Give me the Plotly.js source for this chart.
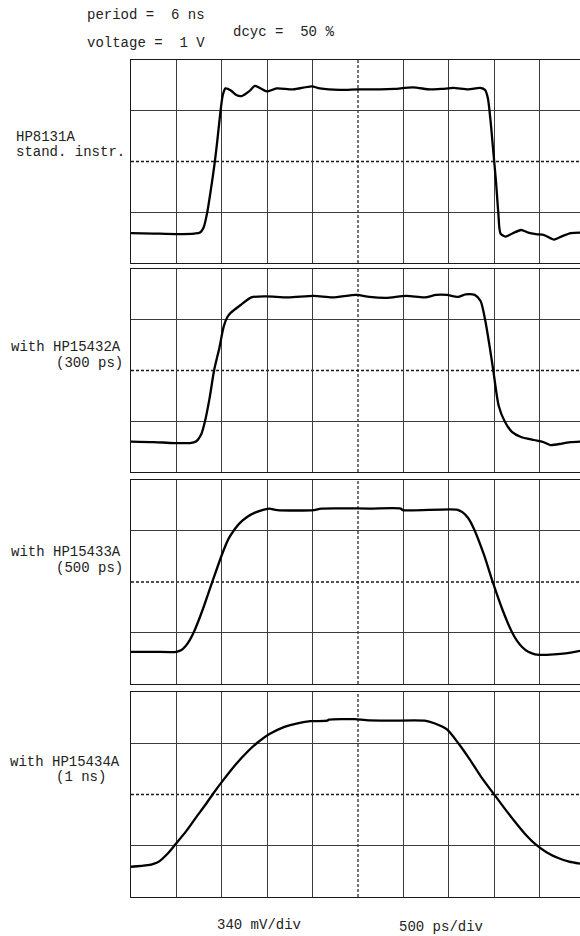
<!DOCTYPE html>
<html>
<head>
<meta charset="utf-8">
<script src="https://cdn.plot.ly/plotly-3.0.1.min.js"></script>
<style>html,body{margin:0;padding:0;background:#fff;}#chart{width:580px;height:936px;}</style>
</head>
<body>
<div id="chart"></div>
<script>
// Time in ns (500 ps/div), level in graticule divisions above the bottom edge (340 mV/div)
const t1 = [0,0.25,0.5,0.7,0.76,0.8,0.84,0.88,0.92,0.95,0.98,1.01,1.04,1.1,1.16,1.22,1.3,1.365,1.43,1.495,1.605,1.785,1.99,2.08,2.3,2.5,2.74,2.9,3.105,3.295,3.425,3.55,3.715,3.845,3.9,3.93,3.96,3.99,4.02,4.045,4.07,4.125,4.2,4.295,4.375,4.46,4.55,4.66,4.75,4.845,4.945];
const d1 = [0.59,0.58,0.57,0.58,0.6,0.7,1.0,1.45,1.95,2.4,2.9,3.3,3.44,3.4,3.31,3.29,3.38,3.49,3.44,3.38,3.44,3.42,3.48,3.44,3.41,3.42,3.42,3.43,3.46,3.42,3.43,3.45,3.42,3.45,3.41,3.25,2.8,2.2,1.6,1.0,0.58,0.52,0.58,0.65,0.6,0.57,0.55,0.46,0.53,0.59,0.6];

const t2 = [0,0.25,0.475,0.65,0.715,0.775,0.815,0.865,0.915,0.975,1.02,1.06,1.1,1.2,1.325,1.485,1.73,2.015,2.22,2.485,2.625,2.81,3.035,3.235,3.36,3.48,3.6,3.685,3.785,3.85,3.9,3.95,3.99,4.05,4.115,4.195,4.295,4.44,4.54,4.62,4.745,4.845,4.945];
const d2 = [0.6,0.59,0.57,0.57,0.6,0.75,1.0,1.45,2.0,2.46,2.86,3.05,3.14,3.28,3.44,3.46,3.44,3.47,3.44,3.49,3.45,3.43,3.47,3.44,3.49,3.49,3.45,3.5,3.49,3.37,3.0,2.47,2.0,1.3,1.0,0.79,0.69,0.63,0.59,0.53,0.56,0.59,0.6];

const t3 = [0,0.25,0.5,0.55,0.6,0.65,0.7,0.75,0.8,0.895,1.0,1.075,1.14,1.2,1.275,1.365,1.465,1.525,1.61,2.015,2.095,2.625,2.97,2.995,3.585,3.65,3.715,3.78,3.89,3.98,4.09,4.195,4.25,4.31,4.375,4.45,4.5,4.66,4.785,4.945];
const d3 = [0.63,0.63,0.63,0.66,0.74,0.87,1.05,1.27,1.51,2.0,2.53,2.85,3.03,3.16,3.27,3.36,3.42,3.44,3.41,3.41,3.44,3.44,3.44,3.41,3.42,3.37,3.25,3.03,2.52,2.02,1.46,1.02,0.85,0.72,0.63,0.58,0.57,0.58,0.6,0.65];

const t4 = [0,0.185,0.305,0.405,0.49,0.61,0.715,0.815,0.91,1.02,1.16,1.28,1.405,1.525,1.69,1.81,1.975,2.16,2.18,2.465,2.585,2.83,3.235,3.34,3.48,3.605,3.725,3.85,4.0,4.135,4.255,4.355,4.46,4.58,4.705,4.825,4.945];
const d4 = [0.59,0.62,0.69,0.85,1.03,1.29,1.55,1.79,2.03,2.29,2.6,2.83,3.03,3.18,3.32,3.38,3.43,3.44,3.46,3.47,3.45,3.44,3.44,3.39,3.27,3.0,2.7,2.36,2.0,1.68,1.41,1.2,1.02,0.87,0.76,0.69,0.65];

const panelLabels = [["HP8131A","stand. instr."],["with HP15432A","(300 ps)"],["with HP15433A","(500 ps)"],["with HP15434A","(1 ns)"]];
const headerLines = ["period =  6 ns","voltage =  1 V","dcyc =  50 %"];
const footerLabels = ["340 mV/div","500 ps/div"];
const xGridVals = [0.5,1,1.5,2,3,3.5,4,4.5];
const yGridVals = [1,3];

const W = 580, H = 936, ML = 131, MT = 60, MB = 39;
const PW = W - ML, PH = H - MT - MB;
const px = v => (v - ML) / PW;
const py = v => (H - MB - v) / PH;

const domains = [[0.7575,1.0],[0.5078,0.7503],[0.2545,0.4982],[0,0.2449]];
const times = [t1,t2,t3,t4];
const levels = [d1,d2,d3,d4];
const XR = [0, 4.945];

const data = [];
const layout = {
  width: W, height: H,
  margin: {l: ML, r: 0, t: MT, b: MB, pad: 0},
  paper_bgcolor: '#fff', plot_bgcolor: '#fff',
  showlegend: false,
  font: {family: '"Liberation Mono", "Courier New", monospace', size: 14, color: '#222'},
  shapes: [], annotations: []
};

for (let i = 0; i < 4; i++) {
  const s = i === 0 ? '' : String(i + 1);
  data.push({
    x: times[i], y: levels[i], xaxis: 'x' + s, yaxis: 'y' + s,
    type: 'scatter', mode: 'lines',
    line: {color: '#000', width: 2.3, shape: 'spline', smoothing: 0.7},
    hoverinfo: 'skip'
  });
  layout['xaxis' + s] = {
    domain: [0, 1], range: XR, anchor: 'y' + s,
    tickmode: 'array', tickvals: xGridVals, showticklabels: false, ticks: '',
    showgrid: true, gridcolor: '#3c3c3c', gridwidth: 1, zeroline: false,
    showline: true, linecolor: '#1a1a1a', linewidth: 1.3, mirror: true, fixedrange: true
  };
  layout['yaxis' + s] = {
    domain: domains[i], range: [0, 4], anchor: 'x' + s,
    tickmode: 'array', tickvals: yGridVals, showticklabels: false, ticks: '',
    showgrid: true, gridcolor: '#3c3c3c', gridwidth: 1, zeroline: false,
    showline: true, linecolor: '#1a1a1a', linewidth: 1.3, mirror: false, fixedrange: true
  };
  layout.shapes.push({type: 'line', xref: 'x' + s, yref: 'y' + s, x0: XR[0], x1: XR[1], y0: 2, y1: 2,
    line: {color: '#1a1a1a', width: 1.3, dash: '3px,2px'}, layer: 'below'});
  layout.shapes.push({type: 'line', xref: 'x' + s, yref: 'y' + s, x0: 2.5, x1: 2.5, y0: 0, y1: 4,
    line: {color: '#1a1a1a', width: 1.2, dash: '3px,2px'}, layer: 'below'});
}

function ann(text, x, y, xanchor) {
  layout.annotations.push({text: text, xref: 'paper', yref: 'paper', x: px(x), y: py(y),
    xanchor: xanchor || 'left', yanchor: 'middle', showarrow: false, borderpad: 0,
    font: {family: '"Liberation Mono", "Courier New", monospace', size: 14, color: '#222'}});
}

ann(headerLines[0], 86, 15);
ann(headerLines[1], 86, 43);
ann(headerLines[2], 232, 32);

const labelPos = [[[15,137],[15,152]],[[10,347],[55,363]],[[10,552],[55,568]],[[9,762],[55,777]]];
for (let i = 0; i < 4; i++) {
  ann(panelLabels[i][0], labelPos[i][0][0], labelPos[i][0][1]);
  ann(panelLabels[i][1], labelPos[i][1][0], labelPos[i][1][1]);
}
ann(footerLabels[0], 259, 925, 'center');
ann(footerLabels[1], 441, 927, 'center');

Plotly.newPlot('chart', data, layout, {displayModeBar: false, staticPlot: true});
</script>
</body>
</html>
